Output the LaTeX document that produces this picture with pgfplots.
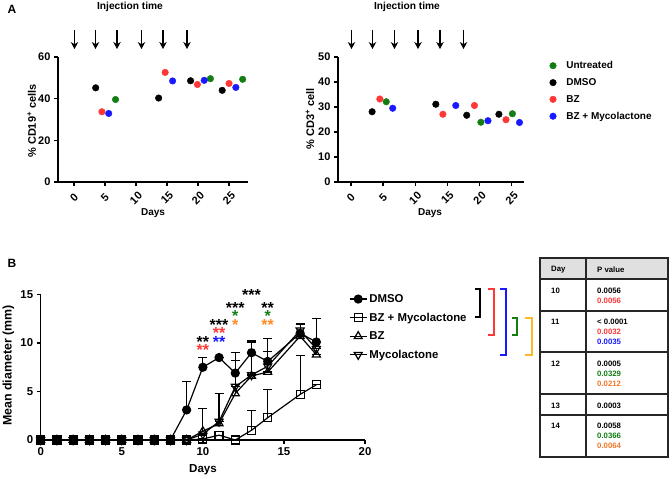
\documentclass[border=0pt]{standalone}
\usepackage{pgfplots}
\pgfplotsset{compat=1.18}
\usepackage{fontspec}
\setmainfont{Liberation Sans}
\usetikzlibrary{arrows.meta}

\definecolor{ugreen}{RGB}{20,125,20}
\definecolor{ured}{RGB}{255,55,55}
\definecolor{ublue}{RGB}{25,25,255}
\definecolor{uorange}{RGB}{255,140,40}
\definecolor{ubrk}{RGB}{255,185,40}
\definecolor{torange}{RGB}{240,120,40}
\newcommand{\fs}[1]{\fontsize{#1}{#1}\selectfont\bfseries}

\pgfplotsset{
  gp/.style={scale only axis, axis lines=left, axis line style={-, line width=1.3pt},
    tick style={line width=1.3pt, black}, major tick length=4pt, tick align=outside,
    tick label style={font=\fs{11}}, /pgf/number format/assume math mode=true, clip=false},
  dot/.style={only marks, mark=*, mark size=3.3pt},
  eb/.style={/pgfplots/error bars/y dir=plus, /pgfplots/error bars/y explicit,
    /pgfplots/error bars/error bar style={line width=1.2pt},
    /pgfplots/error bars/error mark options={rotate=90, mark size=4.5pt, line width=1.2pt}},
}

\begin{document}
\begin{tikzpicture}[x=1pt,y=1pt]
\useasboundingbox (0,0) rectangle (672,479);

% ---------- panel A, left ----------
\node[font=\fs{12}] at (12,{479-9}) {A};
\node[font=\fs{10.2}] at (130,{479-7}) {Injection time};
\foreach \x in {74.5,95.5,117,141.5,163,187}
  \draw[line width=1.6pt, -{Stealth[length=7pt,width=7.5pt]}] (\x,{479-30}) -- (\x,{479-49});
\node[rotate=90, font=\fs{11}] at (31.7,{479-121}) {\% CD19\textsuperscript{+} cells};
\node[font=\fs{10}] at (153,{479-213}) {Days};

\begin{axis}[gp, at={(58pt,297pt)}, anchor=south west, width=190pt, height=125pt,
  xmin=-2.58, xmax=28.06, ymin=0, ymax=60, ytick={0,20,40,60}, xtick={0,5,...,25},
  xticklabel style={yshift=-12pt, rotate=45, anchor=center}]
\addplot[dot, ugreen] coordinates {(6.7,39.6) (22.0,49.6) (27.2,49.3)};
\addplot[dot, black] coordinates {(3.5,45.2) (13.65,40.3) (18.8,48.6) (23.9,44.0)};
\addplot[dot, ured] coordinates {(4.5,33.7) (14.7,52.6) (19.9,46.8) (25.0,47.3)};
\addplot[dot, ublue] coordinates {(5.6,32.9) (15.9,48.5) (21.0,48.8) (26.1,45.4)};
\end{axis}

% ---------- panel A, right ----------
\node[font=\fs{10.2}] at (407,{479-7}) {Injection time};
\foreach \x in {351.5,372.5,394.5,418,440,463.5}
  \draw[line width=1.6pt, -{Stealth[length=7pt,width=7.5pt]}] (\x,{479-30}) -- (\x,{479-49});
\node[rotate=90, font=\fs{11}] at (310,{479-119}) {\% CD3\textsuperscript{+} cell};
\node[font=\fs{10}] at (430,{479-213}) {Days};

\begin{axis}[gp, at={(338pt,297pt)}, anchor=south west, width=186pt, height=125pt,
  xmin=-2.0, xmax=26.9, ymin=0, ymax=50, ytick={0,10,...,50}, xtick={0,5,...,25},
  xticklabel style={yshift=-12pt, rotate=45, anchor=center},
  legend style={at={(1.121,0.999)}, anchor=north west, draw=none, fill=none,
    font=\fs{10}, row sep=4.3pt}, legend cell align=left]
\addplot[dot, ugreen] coordinates {(5.5,32.1) (20.2,23.9) (25.1,27.3)};
\addlegendentry{\hspace{8pt}Untreated}
\addplot[dot, black] coordinates {(3.3,28.1) (13.2,31.1) (18.0,26.7) (23.0,27.1)};
\addlegendentry{\hspace{8pt}DMSO}
\addplot[dot, ured] coordinates {(4.5,33.2) (14.3,27.1) (19.2,30.6) (24.1,24.9)};
\addlegendentry{\hspace{8pt}BZ}
\addplot[dot, ublue] coordinates {(6.5,29.5) (16.3,30.6) (21.3,24.5) (26.2,23.8)};
\addlegendentry{\hspace{8pt}BZ + Mycolactone}
\end{axis}

% ---------- panel B ----------
\node[font=\fs{12}] at (12,{479-263}) {B};
\node[rotate=90, font=\fs{12.4}] at (8.5,{479-365.5}) {Mean diameter (mm)};
\node[font=\fs{11.6}] at (203,{479-470}) {Days};

\begin{axis}[gp, at={(40.7pt,39pt)}, anchor=south west, width=324.3pt, height=145.5pt,
  xmin=0, xmax=20, ymin=0, ymax=15, xtick={0,5,...,20}, ytick={0,5,10,15},
  tick label style={font=\fs{11.4}},
  legend style={at={(0.941,1.03)}, anchor=north west, draw=none, fill=none,
    font=\fs{11.4}, row sep=5pt}, legend cell align=left,
  every axis plot/.append style={line width=1.2pt, black}]
\addplot[eb, mark=*, mark size=4pt] table[x=d, y=m, y error=e] {
d m e
0 0 0
1 0 0
2 0 0
3 0 0
4 0 0
5 0 0
6 0 0
7 0 0
8 0 0
9 3.1 2.9
10 7.5 1.0
11 8.5 0
12 6.9 2.15
13 9.0 1.2
14 8.1 2.35
16 11.0 1.05
17 10.1 2.4
};
\addlegendentry{DMSO}
\addplot[eb, mark=square, mark size=4pt, mark options={fill=white, solid}] table[x=d, y=m, y error=e] {
d m e
0 0 0
1 0 0
2 0 0
3 0 0
4 0 0
5 0 0
6 0 0
7 0 0
8 0 0
9 0 0
10 0.1 0
11 0.5 0
12 0 0
13 1.0 2.05
14 2.3 2.9
16 4.7 4.0
17 5.7 0
};
\addlegendentry{BZ + Mycolactone}
\addplot[eb, mark=triangle, mark size=4.6pt, mark options={fill=white}] table[x=d, y=m, y error=e] {
d m e
0 0 0
1 0 0
2 0 0
3 0 0
4 0 0
5 0 0
6 0 0
7 0 0
8 0 0
9 0 0
10 0.9 2.35
11 1.7 3.1
12 4.8 3.4
13 6.6 3.5
14 7.0 0
16 10.7 0
17 8.8 0
};
\addlegendentry{BZ}
\addplot[eb, mark=triangle, mark size=4.6pt, mark options={fill=white, rotate=180}] table[x=d, y=m, y error=e] {
d m e
0 0 0
1 0 0
2 0 0
3 0 0
4 0 0
5 0 0
6 0 0
7 0 0
8 0 0
9 0 0
10 0.6 0
11 1.9 0
12 5.5 0
13 6.7 0
14 7.6 1.5
16 11.3 0.6
17 9.4 0
};
\addlegendentry{Mycolactone}
\addplot[forget plot, only marks, mark=square*, mark size=4pt] coordinates {
(0,0) (1,0) (2,0) (3,0) (4,0) (5,0) (6,0) (7,0) (8,0)};
% significance
\tikzset{st/.style={anchor=base, yshift=-9.3pt, font=\fs{16}, inner sep=0pt}}
\node[st, black] at (axis cs:10,10.48) {**};
\node[st, ured] at (axis cs:10,9.62) {**};
\node[st, black] at (axis cs:11,12.27) {***};
\node[st, ured] at (axis cs:11,11.41) {**};
\node[st, ublue] at (axis cs:11,10.48) {**};
\node[st, black] at (axis cs:12,14.02) {***};
\node[st, ugreen] at (axis cs:12,13.16) {*};
\node[st, uorange] at (axis cs:12,12.27) {*};
\node[st, black] at (axis cs:13,15.29) {***};
\node[st, black] at (axis cs:14,14.02) {**};
\node[st, ugreen] at (axis cs:14,13.16) {*};
\node[st, uorange] at (axis cs:14,12.27) {**};
\end{axis}

% brackets
\begin{scope}[line width=2pt]
\draw[black] (475,{479-289}) -- (479.5,{479-289}) -- (479.5,{479-317.5}) -- (475,{479-317.5});
\draw[ured] (487.5,{479-289}) -- (493.5,{479-289}) -- (493.5,{479-335}) -- (487.5,{479-335});
\draw[ublue] (500,{479-289}) -- (505.5,{479-289}) -- (505.5,{479-355.5}) -- (500,{479-355.5});
\draw[ugreen] (511.5,{479-318.5}) -- (516.5,{479-318.5}) -- (516.5,{479-335}) -- (511.5,{479-335});
\draw[ubrk] (525,{479-318.5}) -- (532,{479-318.5}) -- (532,{479-355.5}) -- (525,{479-355.5});
\end{scope}

% table
\fill[black!12] (540,{479-258}) rectangle (668,{479-279});
\begin{scope}[line width=1.6pt, black!85]
\draw (540,{479-258}) rectangle (668,{479-457});
\draw (586,{479-258}) -- (586,{479-457});
\foreach \yy in {279,311,352,394,415}
  \draw (540,{479-\yy}) -- (668,{479-\yy});
\end{scope}
\begin{scope}[every node/.style={anchor=west, font=\fs{7.8}, inner sep=0pt}]
\node at (551,{479-270}) {Day};
\node at (597,{479-270}) {P value};
\node at (551,{479-290.7}) {10};
\node at (597,{479-290.7}) {0.0056};
\node[ured] at (597,{479-300.7}) {0.0056};
\node at (551,{479-322}) {11};
\node at (597,{479-322}) {< 0.0001};
\node[ured] at (597,{479-332}) {0.0032};
\node[ublue] at (597,{479-342}) {0.0035};
\node at (551,{479-364}) {12};
\node at (597,{479-364}) {0.0005};
\node[ugreen] at (597,{479-374}) {0.0329};
\node[torange] at (597,{479-384}) {0.0212};
\node at (551,{479-405.7}) {13};
\node at (597,{479-405.7}) {0.0003};
\node at (551,{479-425.7}) {14};
\node at (597,{479-425.7}) {0.0058};
\node[ugreen] at (597,{479-435.7}) {0.0366};
\node[torange] at (597,{479-445.7}) {0.0064};
\end{scope}
\end{tikzpicture}
\end{document}
